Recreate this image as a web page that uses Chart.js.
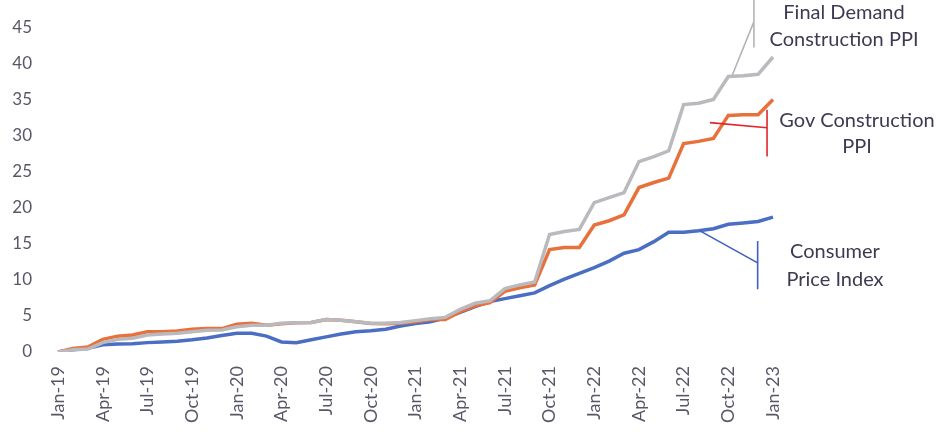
<!DOCTYPE html>
<html>
<head>
<meta charset="utf-8">
<script src="https://cdn.jsdelivr.net/npm/chart.js@4/dist/chart.umd.min.js"></script>
<style>
  html, body { margin: 0; padding: 0; background: #fff; }
  #wrap { width: 944px; height: 432px; }
</style>
</head>
<body>
<div id="wrap"><canvas id="chart" width="944" height="432"></canvas></div>
<script>
// monthly, Jan-19 .. Jan-23, % change since Jan-19
const months = [
  "Jan-19","Feb-19","Mar-19","Apr-19","May-19","Jun-19","Jul-19","Aug-19","Sep-19","Oct-19","Nov-19","Dec-19",
  "Jan-20","Feb-20","Mar-20","Apr-20","May-20","Jun-20","Jul-20","Aug-20","Sep-20","Oct-20","Nov-20","Dec-20",
  "Jan-21","Feb-21","Mar-21","Apr-21","May-21","Jun-21","Jul-21","Aug-21","Sep-21","Oct-21","Nov-21","Dec-21",
  "Jan-22","Feb-22","Mar-22","Apr-22","May-22","Jun-22","Jul-22","Aug-22","Sep-22","Oct-22","Nov-22","Dec-22",
  "Jan-23"
];
const finalDemandPPI = [
  0, 0.3, 0.4, 1.3, 1.75, 1.9, 2.35, 2.5, 2.6, 2.8, 3.0, 3.05,
  3.5, 3.7, 3.7, 4.0, 4.05, 4.1, 4.5, 4.4, 4.2, 4.0, 4.0, 4.1,
  4.35, 4.6, 4.8, 5.9, 6.75, 7.1, 8.8, 9.3, 9.7, 16.3, 16.7, 17.0,
  20.7, 21.4, 22.1, 26.4, 27.1, 27.9, 34.3, 34.5, 35.0, 38.2, 38.3, 38.5,
  40.9
];
const govConstructionPPI = [
  0, 0.5, 0.7, 1.75, 2.2, 2.35, 2.8, 2.8, 2.9, 3.15, 3.25, 3.25,
  3.85, 4.0, 3.7, 3.9, 4.05, 4.1, 4.5, 4.4, 4.2, 3.95, 3.9, 4.0,
  4.2, 4.5, 4.5, 5.6, 6.4, 6.85, 8.4, 8.9, 9.3, 14.2, 14.5, 14.5,
  17.6, 18.2, 19.0, 22.8, 23.5, 24.1, 28.9, 29.2, 29.6, 32.8, 32.9, 32.9,
  35.0
];
const cpi = [
  0, 0.3, 0.5, 1.0, 1.1, 1.15, 1.3, 1.4, 1.5, 1.7, 1.95, 2.3,
  2.6, 2.6, 2.2, 1.4, 1.3, 1.7, 2.1, 2.5, 2.8, 2.95, 3.15, 3.6,
  3.95, 4.2, 4.7, 5.5, 6.3, 7.0, 7.4, 7.8, 8.2, 9.2, 10.1, 10.9,
  11.7, 12.6, 13.7, 14.2, 15.3, 16.6, 16.6, 16.8, 17.1, 17.7, 17.9, 18.1,
  18.7
];
const yTicks = [0, 5, 10, 15, 20, 25, 30, 35, 40, 45];

const FONT = "Lato, 'Open Sans', sans-serif";
const TEXT = "#3e3a52";
const TICK = "#5a5668";

// hand drawn style callouts at the right edge
const callouts = [
  { lines: ["Final Demand", "Construction PPI"], color: "#b4b4b8", dx: 71, ys: [13, 40],
    bar: { i: 46.72, from: 48.8, to: 42.2 }, lead: { i0: 46.72, v0: 45.8, i1: 45.25, v1: 38.3 } },
  { lines: ["Gov Construction", "PPI"], color: "#e0262a", dx: 84, ys: [121, 147],
    bar: { i: 47.6, from: 33.6, to: 27.1 }, lead: { i0: 47.6, v0: 31.1, i1: 43.77, v1: 31.8 } },
  { lines: ["Consumer", "Price Index"], color: "#4060c0", dx: 62, ys: [252, 280],
    bar: { i: 46.97, from: 15.4, to: 8.7 }, lead: { i0: 46.97, v0: 12.35, i1: 43.1, v1: 16.8 } }
];

const calloutPlugin = {
  id: "callouts",
  afterDatasetsDraw(chart) {
    const ctx = chart.ctx, x = chart.scales.x, y = chart.scales.y;
    ctx.save();
    callouts.forEach(c => {
      ctx.strokeStyle = c.color;
      ctx.lineWidth = 1.6;
      ctx.beginPath();
      ctx.moveTo(x.getPixelForValue(c.bar.i), y.getPixelForValue(c.bar.from));
      ctx.lineTo(x.getPixelForValue(c.bar.i), y.getPixelForValue(c.bar.to));
      ctx.moveTo(x.getPixelForValue(c.lead.i0), y.getPixelForValue(c.lead.v0));
      ctx.lineTo(x.getPixelForValue(c.lead.i1), y.getPixelForValue(c.lead.v1));
      ctx.stroke();
      ctx.fillStyle = TEXT;
      ctx.font = "20px " + FONT;
      ctx.textAlign = "center";
      ctx.textBaseline = "middle";
      c.lines.forEach((t, k) => ctx.fillText(t, chart.chartArea.right + c.dx, c.ys[k]));
    });
    ctx.restore();
  }
};

const line = (data, color) => ({
  data: data,
  borderColor: color,
  backgroundColor: color,
  borderWidth: 3.5,
  pointRadius: 0,
  tension: 0,
  fill: false
});

new Chart(document.getElementById("chart"), {
  type: "line",
  data: {
    labels: months,
    datasets: [
      line(finalDemandPPI, "#b9b9be"),
      line(govConstructionPPI, "#e8703a"),
      line(cpi, "#4a6ec4")
    ]
  },
  options: {
    responsive: false,
    animation: false,
    layout: { padding: { top: 13, right: 171, bottom: 0, left: 0 } },
    plugins: { legend: { display: false }, tooltip: { enabled: false } },
    scales: {
      x: {
        offset: false,
        grid: { display: false, drawTicks: false },
        border: { display: false },
        afterFit(scale) { scale.height = 80; },
        ticks: {
          autoSkip: false,
          maxRotation: 90,
          minRotation: 90,
          padding: 14,
          color: TICK,
          font: { family: FONT, size: 18 },
          callback: (v, i) => (i % 3 === 0 ? months[i] : "")
        }
      },
      y: {
        min: 0,
        max: 47,
        grid: { display: false, drawTicks: false },
        border: { display: false },
        // fixed width; drop the extra top/bottom padding the tick padding adds
        afterFit(scale) {
          scale.width = 58;
          scale.paddingTop = 0;
          scale.paddingBottom = 0;
        },
        afterBuildTicks(scale) { scale.ticks = yTicks.map(v => ({ value: v })); },
        ticks: {
          padding: 26,
          color: TICK,
          font: { family: FONT, size: 17 }
        }
      }
    }
  },
  plugins: [calloutPlugin]
});
</script>
</body>
</html>
